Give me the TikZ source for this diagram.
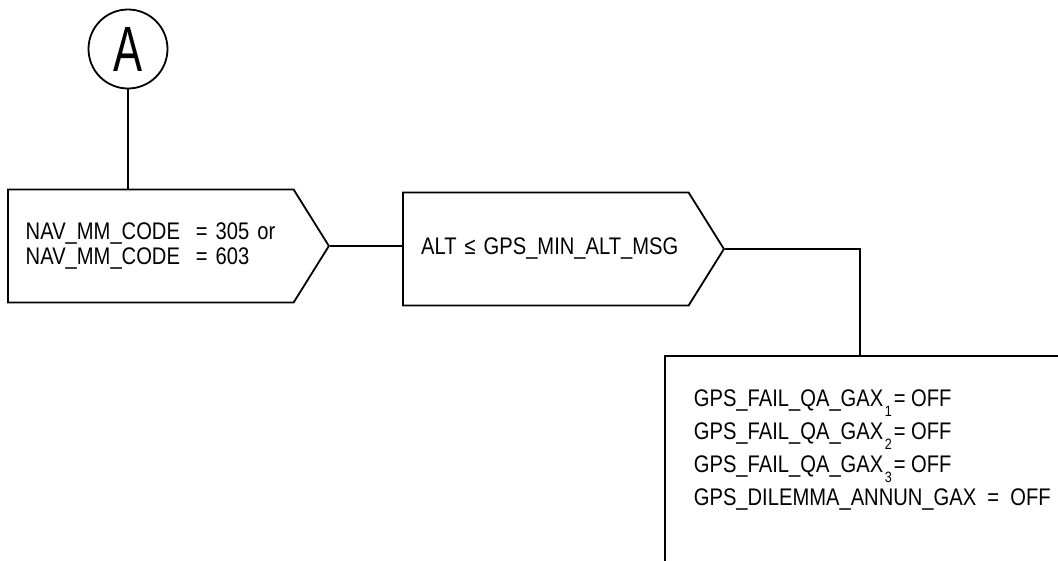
\documentclass[tikz,border=0pt]{standalone}
\usepackage{fontspec}
\setmainfont{Liberation Sans}[FakeStretch=0.84]
\newfontfamily\circfont{Liberation Sans}[FakeStretch=0.68]
\usetikzlibrary{positioning,shapes.symbols}
\newcommand{\lowidx}[1]{\kern1.5pt\raisebox{-10pt}{\fontsize{15}{15}\selectfont #1}\kern2pt}

\begin{document}
\begin{tikzpicture}[x=1pt,y=-1pt,line width=1.8pt,
    conn/.style={circle,draw,minimum size=79pt,inner sep=0pt,font=\circfont\fontsize{64}{64}\selectfont},
    cond/.style={signal,signal to=east,signal pointer angle=116,draw,
      minimum width=321pt,minimum height=113pt,inner sep=0pt,font=\fontsize{24}{25}\selectfont},
    act/.style={rectangle,draw,minimum width=460pt,minimum height=260pt,inner sep=0pt}]
    \useasboundingbox (0,0) rectangle (1058,561);
    \clip (0,0) rectangle (1058,561);
    \node[conn] (A) at (128,49) {A};
    \node[cond,anchor=west,text width=250pt,align=left] (b1) at (7,246) {NAV\_MM\_CODE\ \ = 305 or\\NAV\_MM\_CODE\ \ = 603};
    \node[cond,anchor=west,text width=265pt,align=right] (b2) at (402,249) {ALT ≤ GPS\_MIN\_ALT\_MSG};
    \node[act,anchor=north west] (out) at (664,355) {};
    \node[anchor=north west,inner sep=0pt,align=left,font=\fontsize{24}{33}\selectfont] (outtxt) at (693,389)
      {GPS\_FAIL\_QA\_GAX\lowidx{1}= OFF\\GPS\_FAIL\_QA\_GAX\lowidx{2}= OFF\\
       GPS\_FAIL\_QA\_GAX\lowidx{3}= OFF\\GPS\_DILEMMA\_ANNUN\_GAX\ \ = \ OFF};
    \draw (A) -- (A |- b1.north);
    \draw (b1.east) -- (b1.east -| b2.west);
    \draw (b2.east) -| ([xshift=196pt]out.north west);
\end{tikzpicture}
\end{document}
